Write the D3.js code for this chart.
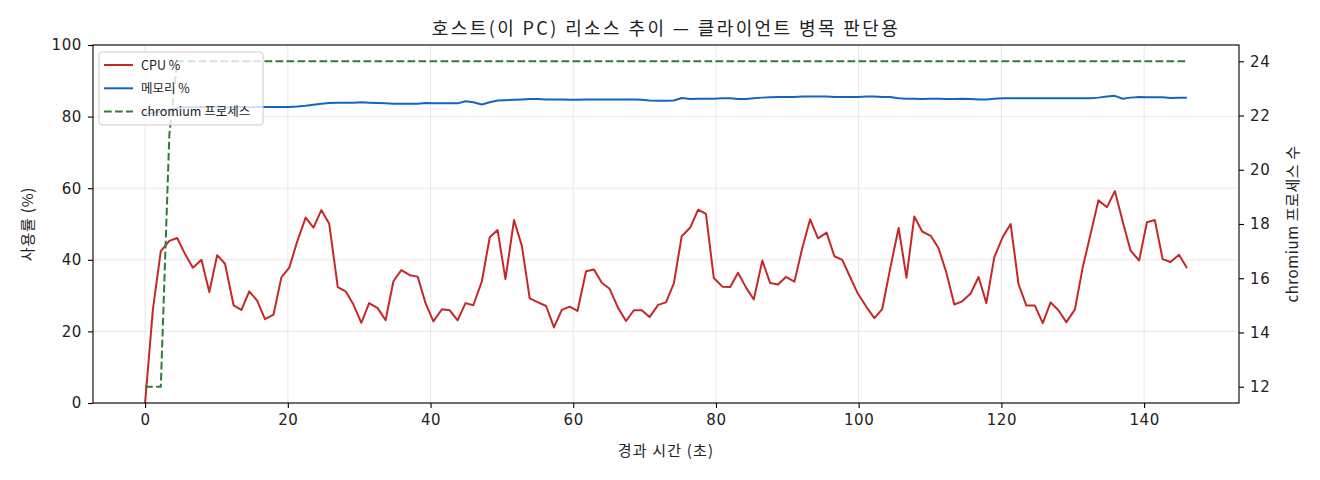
<!DOCTYPE html>
<html>
<head>
<meta charset="utf-8">
<script src="https://cdn.jsdelivr.net/npm/d3@7"></script>
<style>
  body { margin: 0; background: #fff; }
  svg { display: block; }
  .tick text { font-family: "DejaVu Sans", "Noto Sans CJK KR", sans-serif; font-size: 15px; letter-spacing: 0.6px; fill: #222; }
  .lbl { font-family: "Noto Sans CJK KR", "DejaVu Sans", sans-serif; fill: #222; }
</style>
</head>
<body>
<svg id="chart"></svg>
<script>
// sample times (s)
const times = [0.0, 1.1, 2.2, 3.4, 4.5, 5.6, 6.7, 7.9, 9.0, 10.1, 11.2, 12.4, 13.5, 14.6, 15.7, 16.8, 18.0, 19.1, 20.2, 21.3,
  22.5, 23.6, 24.7, 25.8, 27.0, 28.1, 29.2, 30.3, 31.4, 32.6, 33.7, 34.8, 35.9, 37.1, 38.2, 39.3, 40.4, 41.6, 42.7, 43.8,
  44.9, 46.0, 47.2, 48.3, 49.4, 50.5, 51.7, 52.8, 53.9, 55.0, 56.2, 57.3, 58.4, 59.5, 60.6, 61.8, 62.9, 64.0, 65.1, 66.3,
  67.4, 68.5, 69.6, 70.7, 71.9, 73.0, 74.1, 75.2, 76.4, 77.5, 78.6, 79.7, 80.9, 82.0, 83.1, 84.2, 85.3, 86.5, 87.6, 88.7,
  89.8, 91.0, 92.1, 93.2, 94.3, 95.5, 96.6, 97.7, 98.8, 99.9, 101.1, 102.2, 103.3, 104.4, 105.6, 106.7, 107.8, 108.9, 110.1, 111.2,
  112.3, 113.4, 114.5, 115.7, 116.8, 117.9, 119.0, 120.2, 121.3, 122.4, 123.5, 124.7, 125.8, 126.9, 128.0, 129.1, 130.3, 131.4, 132.5, 133.6,
  134.8, 135.9, 137.0, 138.1, 139.3, 140.4, 141.5, 142.6, 143.7, 144.9, 146.0];

const cpu = [0, 26.2, 42.4, 45.3, 46.1, 41.6, 37.8, 40.0, 31.0, 41.3, 38.9, 27.3, 26.0, 31.2, 28.6, 23.4, 24.7, 35.1, 37.8, 45.0,
  51.8, 49.0, 53.9, 50.1, 32.4, 31.2, 27.5, 22.4, 27.9, 26.5, 23.1, 34.0, 37.1, 35.7, 35.3, 27.9, 22.8, 26.2, 25.9, 23.1,
  27.9, 27.3, 34.0, 46.3, 48.3, 34.6, 51.1, 43.9, 29.2, 28.2, 27.1, 21.1, 26.0, 26.9, 25.7, 36.8, 37.3, 33.6, 31.9, 26.5,
  22.9, 25.9, 25.9, 24.0, 27.4, 28.1, 33.4, 46.6, 49.0, 54.0, 52.8, 34.9, 32.5, 32.4, 36.4, 32.3, 28.9, 39.8, 33.5, 33.1,
  35.2, 33.9, 43.3, 51.3, 46.0, 47.6, 41.0, 40.0, 35.2, 30.5, 26.8, 23.7, 26.2, 37.4, 48.9, 35.0, 52.1, 47.9, 46.7, 43.2,
  36.4, 27.5, 28.4, 30.6, 35.2, 27.9, 40.7, 46.4, 50.0, 33.2, 27.2, 27.2, 22.3, 28.1, 25.9, 22.6, 26.1, 37.9, 47.2, 56.6,
  54.7, 59.2, 50.7, 42.6, 39.8, 50.5, 51.1, 40.2, 39.4, 41.4, 37.7];

const mem = [80.8, 81.0, 81.5, 82.0, 82.4, 82.6, 82.6, 82.7, 82.7, 82.7, 82.6, 82.7, 82.7, 82.6, 82.7, 82.7, 82.7, 82.7, 82.7, 82.8,
  83.0, 83.3, 83.6, 83.8, 83.9, 83.9, 83.9, 84.0, 83.9, 83.8, 83.7, 83.6, 83.6, 83.6, 83.6, 83.8, 83.7, 83.7, 83.7, 83.7,
  84.3, 84.0, 83.4, 84.0, 84.5, 84.6, 84.7, 84.8, 84.9, 84.9, 84.8, 84.8, 84.8, 84.7, 84.7, 84.8, 84.8, 84.8, 84.8, 84.8,
  84.8, 84.8, 84.7, 84.5, 84.4, 84.4, 84.5, 85.2, 84.9, 85.0, 85.0, 85.0, 85.1, 85.1, 84.9, 84.9, 85.1, 85.3, 85.4, 85.5,
  85.5, 85.5, 85.6, 85.6, 85.6, 85.6, 85.5, 85.5, 85.5, 85.5, 85.6, 85.6, 85.5, 85.5, 85.1, 85.0, 85.0, 84.9, 85.0, 85.0,
  84.9, 84.9, 85.0, 84.9, 84.8, 84.8, 85.0, 85.1, 85.1, 85.1, 85.1, 85.1, 85.1, 85.1, 85.1, 85.1, 85.1, 85.1, 85.1, 85.3,
  85.6, 85.8, 85.0, 85.3, 85.5, 85.4, 85.4, 85.4, 85.2, 85.3, 85.3];

const procs = [12, 12, 12, 21.3, 24, 24, 24, 24, 24, 24, 24, 24, 24, 24, 24, 24, 24, 24, 24, 24,
  24, 24, 24, 24, 24, 24, 24, 24, 24, 24, 24, 24, 24, 24, 24, 24, 24, 24, 24, 24,
  24, 24, 24, 24, 24, 24, 24, 24, 24, 24, 24, 24, 24, 24, 24, 24, 24, 24, 24, 24,
  24, 24, 24, 24, 24, 24, 24, 24, 24, 24, 24, 24, 24, 24, 24, 24, 24, 24, 24, 24,
  24, 24, 24, 24, 24, 24, 24, 24, 24, 24, 24, 24, 24, 24, 24, 24, 24, 24, 24, 24,
  24, 24, 24, 24, 24, 24, 24, 24, 24, 24, 24, 24, 24, 24, 24, 24, 24, 24, 24, 24,
  24, 24, 24, 24, 24, 24, 24, 24, 24, 24, 24];

const xTicks = [0, 20, 40, 60, 80, 100, 120, 140];
const yTicks = [0, 20, 40, 60, 80, 100];
const y2Ticks = [12, 14, 16, 18, 20, 22, 24];

const title = "호스트(이 PC) 리소스 추이 — 클라이언트 병목 판단용";
const xLabel = "경과 시간 (초)";
const yLabel = "사용률 (%)";
const y2Label = "chromium 프로세스 수";
const legendNames = ["CPU %", "메모리 %", "chromium 프로세스"];
const colors = { cpu: "#c62828", mem: "#1565c0", procs: "#2e7d32" };

const W = 1320, H = 480;
const margin = { top: 45, right: 81, bottom: 77, left: 93 };
const width = W - margin.left - margin.right,
  height = H - margin.top - margin.bottom;

const svg = d3.select("#chart").attr("width", W).attr("height", H);
const g = svg.append("g").attr("transform", "translate(" + margin.left + "," + margin.top + ")");

// matplotlib-like 5% padding
const tExt = d3.extent(times), tPad = (tExt[1] - tExt[0]) * 0.05;
const pExt = d3.extent(procs), pPad = (pExt[1] - pExt[0]) * 0.05;

const x = d3.scaleLinear().domain([tExt[0] - tPad, tExt[1] + tPad]).range([0, width]);
const y = d3.scaleLinear().domain([0, 100]).range([height, 0]);
const y2 = d3.scaleLinear().domain([pExt[0] - pPad, pExt[1] + pPad]).range([height, 0]);

// grid
g.append("g").selectAll("line").data(xTicks).enter().append("line")
  .attr("x1", d => x(d)).attr("x2", d => x(d)).attr("y1", 0).attr("y2", height)
  .attr("stroke", "#b0b0b0").attr("stroke-opacity", 0.3).attr("stroke-width", 1);
g.append("g").selectAll("line").data(yTicks).enter().append("line")
  .attr("x1", 0).attr("x2", width).attr("y1", d => y(d)).attr("y2", d => y(d))
  .attr("stroke", "#b0b0b0").attr("stroke-opacity", 0.3).attr("stroke-width", 1);

// lines
const data = times.map((t, i) => ({ t: t, cpu: cpu[i], mem: mem[i], procs: procs[i] }));

g.append("path").datum(data)
  .attr("fill", "none").attr("stroke", colors.cpu).attr("stroke-width", 2)
  .attr("stroke-linejoin", "round")
  .attr("d", d3.line().x(d => x(d.t)).y(d => y(d.cpu)));

g.append("path").datum(data)
  .attr("fill", "none").attr("stroke", colors.mem).attr("stroke-width", 2)
  .attr("stroke-linejoin", "round")
  .attr("d", d3.line().x(d => x(d.t)).y(d => y(d.mem)));

g.append("path").datum(data)
  .attr("fill", "none").attr("stroke", colors.procs).attr("stroke-width", 2)
  .attr("stroke-dasharray", "7.7,3.3")
  .attr("d", d3.line().x(d => x(d.t)).y(d => y2(d.procs)));

// axes
const xAxis = g.append("g").attr("transform", "translate(0," + height + ")")
  .call(d3.axisBottom(x).tickValues(xTicks).tickSize(5).tickPadding(6));
const yAxis = g.append("g")
  .call(d3.axisLeft(y).tickValues(yTicks).tickSize(5).tickPadding(6));
const y2Axis = g.append("g").attr("transform", "translate(" + width + ",0)")
  .call(d3.axisRight(y2).tickValues(y2Ticks).tickSize(5).tickPadding(6));

[xAxis, yAxis, y2Axis].forEach(a => {
  a.select(".domain").remove();
  a.selectAll(".tick line").attr("stroke", "#000").attr("stroke-width", 1.1);
});

// frame
g.append("rect").attr("width", width).attr("height", height)
  .attr("fill", "none").attr("stroke", "#000").attr("stroke-width", 1.1);

// labels
svg.append("text").attr("class", "lbl")
  .attr("x", margin.left + width / 2).attr("y", 35)
  .attr("text-anchor", "middle").attr("font-size", "18px").attr("letter-spacing", "2.4px")
  .text(title);

svg.append("text").attr("class", "lbl")
  .attr("x", margin.left + width / 2).attr("y", 456)
  .attr("text-anchor", "middle").attr("font-size", "15px").attr("letter-spacing", "1.2px")
  .text(xLabel);

svg.append("text").attr("class", "lbl")
  .attr("transform", "translate(33," + (margin.top + height / 2) + ") rotate(-90)")
  .attr("text-anchor", "middle").attr("font-size", "15px").attr("letter-spacing", "0.8px")
  .text(yLabel);

svg.append("text").attr("class", "lbl")
  .attr("transform", "translate(1298," + (margin.top + height / 2) + ") rotate(-90)")
  .attr("text-anchor", "middle").attr("font-size", "15px").attr("letter-spacing", "0.6px")
  .text(y2Label);

// legend
const lg = svg.append("g").attr("transform", "translate(99,52)");
lg.append("rect").attr("width", 164).attr("height", 73).attr("rx", 3)
  .attr("fill", "#fff").attr("fill-opacity", 0.8).attr("stroke", "#ccc");
const items = [
  { name: legendNames[0], color: colors.cpu, dash: null },
  { name: legendNames[1], color: colors.mem, dash: null },
  { name: legendNames[2], color: colors.procs, dash: "7.7,3.3" }
];
const row = lg.selectAll(".item").data(items).enter().append("g")
  .attr("transform", (d, i) => "translate(0," + (13 + i * 23.3) + ")");
row.append("line").attr("x1", 5).attr("x2", 34)
  .attr("stroke", d => d.color).attr("stroke-width", 2)
  .attr("stroke-dasharray", d => d.dash);
row.append("text").attr("class", "lbl").attr("x", 42).attr("y", 4.5)
  .attr("font-size", "12.5px")
  .text(d => d.name);
</script>
</body>
</html>
